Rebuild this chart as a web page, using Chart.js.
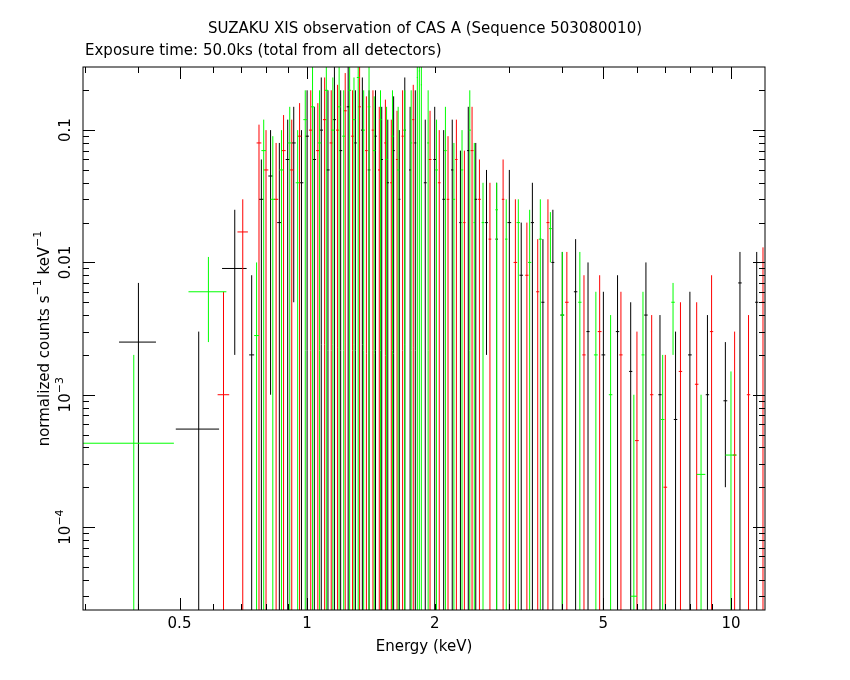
<!DOCTYPE html>
<html>
<head>
<meta charset="utf-8">
<script src="https://cdn.jsdelivr.net/npm/chart.js@4"></script>
<style>
  body { margin: 0; background: #fff; }
  #wrap { width: 850px; height: 680px; }
</style>
</head>
<body>
<div id="wrap"><canvas id="spec"></canvas></div>
<script>
// rows: [energy keV, half bin width, rate, lower error, upper error]
const blackPoints = [
  [0.40,0.04,2.5e-3,1e-6,7e-3],[0.555,0.065,5.5e-4,1e-6,3e-3],[0.675,0.045,9e-3,2e-3,0.025],
  [0.74,0.01,2e-3,1e-6,8e-3],[0.78,0.01,0.03,1e-6,0.06],[0.82,0.01,0.045,1e-3,0.1],
  [0.86,0.01,0.02,1e-6,0.08],[0.9,0.01,0.06,1e-6,0.12],[0.93,0.01,0.08,5e-3,0.15],
  [0.97,0.01,0.04,1e-6,0.1],[1.0,0.01,0.09,1e-6,0.2],[1.04,0.01,0.06,1e-6,0.15],
  [1.08,0.01,0.1,1e-6,0.25],[1.12,0.01,0.05,1e-6,0.2],[1.16,0.01,0.12,1e-6,0.3],
  [1.2,0.01,0.07,1e-6,0.2],[1.25,0.01,0.15,1e-6,0.3],[1.3,0.01,0.08,1e-6,0.2],
  [1.35,0.01,0.1,1e-6,0.25],[1.4,0.01,0.05,1e-6,0.2],[1.45,0.01,0.09,1e-6,0.2],
  [1.5,0.01,0.06,1e-6,0.15],[1.55,0.01,0.04,1e-6,0.12],[1.6,0.01,0.07,1e-6,0.18],
  [1.65,0.01,0.03,1e-6,0.1],[1.7,0.01,0.1,1e-6,0.25],[1.75,0.01,0.05,1e-6,0.15],
  [1.8,0.01,0.08,1e-6,0.2],[1.9,0.015,0.04,1e-6,0.12],[2.0,0.015,0.06,1e-6,0.15],
  [2.1,0.015,0.03,1e-6,0.1],[2.2,0.015,0.05,1e-6,0.12],[2.3,0.015,0.02,1e-6,0.07],
  [2.4,0.015,0.07,1e-6,0.15],[2.5,0.02,0.03,1e-6,0.08],[2.65,0.02,0.02,2e-3,0.05],
  [2.8,0.02,0.015,1e-6,0.04],[3.0,0.03,0.02,1e-6,0.05],[3.2,0.03,0.008,1e-6,0.02],
  [3.4,0.03,0.02,1e-6,0.04],[3.6,0.03,0.005,1e-6,0.015],[3.8,0.03,0.01,1e-6,0.025],
  [4.0,0.04,0.004,1e-6,0.012],[4.3,0.04,0.006,1e-6,0.015],[4.6,0.04,3e-3,1e-6,0.01],
  [5.0,0.05,2e-3,1e-6,6e-3],[5.4,0.05,3e-3,1e-6,8e-3],[5.8,0.05,1.5e-3,1e-6,5e-3],
  [6.3,0.06,0.004,1e-6,0.01],[6.8,0.06,1e-3,1e-6,4e-3],[7.4,0.07,6.5e-4,1e-6,3e-3],
  [8.0,0.08,2e-3,1e-6,6e-3],[8.8,0.08,1e-3,1e-6,4e-3],[9.7,0.1,9e-4,2e-4,2.5e-3],
  [10.5,0.1,0.007,1e-6,0.012],[11.5,0.1,5e-3,1e-6,0.012]
];
const redPoints = [
  [0.635,0.02,1e-3,1e-6,6e-3],[0.705,0.02,0.017,1e-6,0.03],[0.77,0.01,0.08,1e-6,0.11],
  [0.8,0.01,0.05,1e-6,0.1],[0.845,0.01,0.03,1e-6,0.08],[0.88,0.01,0.07,1e-6,0.13],
  [0.92,0.01,0.05,1e-6,0.12],[0.96,0.01,0.09,1e-6,0.16],[1.02,0.01,0.1,1e-6,0.2],
  [1.06,0.01,0.07,1e-6,0.16],[1.1,0.01,0.12,1e-6,0.25],[1.14,0.01,0.08,1e-6,0.2],
  [1.18,0.01,0.1,1e-6,0.22],[1.23,0.01,0.14,1e-6,0.27],[1.28,0.01,0.09,1e-6,0.2],
  [1.33,0.01,0.15,1e-6,0.3],[1.38,0.01,0.07,1e-6,0.18],[1.43,0.01,0.1,1e-6,0.2],
  [1.48,0.01,0.05,1e-6,0.15],[1.53,0.01,0.08,1e-6,0.17],[1.58,0.01,0.04,1e-6,0.12],
  [1.63,0.01,0.06,1e-6,0.14],[1.68,0.01,0.09,1e-6,0.2],[1.78,0.01,0.12,1e-6,0.22],
  [1.95,0.015,0.06,1e-6,0.14],[2.05,0.015,0.04,1e-6,0.1],[2.15,0.015,0.03,1e-6,0.09],
  [2.25,0.015,0.06,1e-6,0.12],[2.35,0.015,0.02,1e-6,0.07],[2.45,0.02,0.07,1e-6,0.15],
  [2.55,0.02,0.03,1e-6,0.06],[2.7,0.02,0.015,1e-6,0.04],[2.9,0.02,0.03,1e-6,0.06],
  [3.1,0.03,0.01,1e-6,0.03],[3.3,0.03,0.008,1e-6,0.02],[3.5,0.03,0.006,1e-6,0.015],
  [3.7,0.03,0.02,1e-6,0.03],[4.1,0.04,0.005,1e-6,0.012],[4.5,0.04,0.002,1e-6,0.008],
  [4.9,0.05,3e-3,1e-6,8e-3],[5.5,0.05,2e-3,1e-6,6e-3],[6.0,0.06,4.5e-4,1e-6,3e-3],
  [6.5,0.06,1e-3,1e-6,4e-3],[7.0,0.07,2e-4,1e-6,2e-3],[7.6,0.07,1.5e-3,1e-6,5e-3],
  [8.3,0.08,1.2e-3,1e-6,5e-3],[9.0,0.08,3e-3,1e-6,8e-3],[10.2,0.1,3.5e-4,1e-6,3e-3],
  [11.0,0.1,1e-3,1e-6,4e-3],[11.9,0.1,5e-3,1e-6,0.013]
];
const greenPoints = [
  [0.39,0.095,4.3e-4,1e-6,2e-3],[0.585,0.06,6e-3,2.5e-3,0.011],[0.76,0.01,0.0028,1e-6,0.01],
  [0.79,0.01,0.07,1e-6,0.12],[0.83,0.01,0.03,1e-6,0.09],[0.87,0.01,0.05,1e-6,0.1],
  [0.91,0.01,0.08,1e-6,0.15],[0.95,0.01,0.04,1e-6,0.1],[0.99,0.01,0.12,1e-6,0.2],
  [1.03,0.01,0.15,1e-6,0.3],[1.07,0.01,0.08,1e-6,0.2],[1.11,0.01,0.2,1e-6,0.3],
  [1.15,0.01,0.1,1e-6,0.25],[1.19,0.01,0.15,1e-6,0.3],[1.22,0.01,0.09,1e-6,0.2],
  [1.26,0.01,0.2,1e-6,0.3],[1.29,0.01,0.12,1e-6,0.25],[1.32,0.01,0.25,1e-6,0.3],
  [1.36,0.01,0.1,1e-6,0.2],[1.4,0.01,0.15,1e-6,0.3],[1.44,0.01,0.07,1e-6,0.18],
  [1.49,0.01,0.12,1e-6,0.2],[1.54,0.01,0.06,1e-6,0.15],[1.59,0.01,0.09,1e-6,0.2],
  [1.64,0.01,0.05,1e-6,0.15],[1.7,0.01,0.1,1e-6,0.2],[1.76,0.01,0.08,1e-6,0.2],
  [1.82,0.005,0.25,1e-6,0.3],[1.84,0.005,0.28,1e-6,0.3],[1.86,0.005,0.22,1e-6,0.3],
  [1.93,0.01,0.08,1e-6,0.2],[2.02,0.015,0.05,1e-6,0.12],[2.12,0.015,0.07,1e-6,0.15],
  [2.22,0.015,0.03,1e-6,0.08],[2.32,0.015,0.05,1e-6,0.1],[2.42,0.015,0.1,1e-6,0.2],
  [2.48,0.01,0.02,1e-6,0.08],[2.6,0.02,0.02,1e-6,0.04],[2.8,0.02,0.025,1e-6,0.04],
  [2.95,0.02,0.015,1e-6,0.03],[3.15,0.03,0.02,1e-6,0.03],[3.35,0.03,0.01,1e-6,0.025],
  [3.55,0.03,0.015,1e-6,0.03],[3.75,0.03,0.018,0.01,0.024],[4.0,0.04,0.004,1e-6,0.012],
  [4.4,0.04,0.005,1e-6,0.012],[4.8,0.05,2e-3,1e-6,6e-3],[5.2,0.05,1e-3,1e-6,4e-3],
  [5.9,0.1,3e-5,1e-6,1e-3],[6.2,0.05,2e-3,1e-6,6e-3],[6.9,0.07,6.5e-4,1e-6,2e-3],
  [7.3,0.07,5e-3,2e-3,7e-3],[8.5,0.2,2.5e-4,1e-6,1e-3],[10.0,0.3,3.5e-4,1e-6,1.5e-3]
];
const xTickValues = [0.5, 1, 2, 5, 10];
const xTickLabels = ['0.5', '1', '2', '5', '10'];
const yTickValues = [0.1, 0.01, 1e-3, 1e-4];
const yTickLabels = ['0.1', '0.01', '10', '10'];
const yTickSups = ['', '', '\u22123', '\u22124'];
const titleLine1 = 'SUZAKU XIS observation of CAS A (Sequence 503080010)';
const titleLine2 = 'Exposure time: 50.0ks (total from all detectors)';

const FONT = '15px "DejaVu Sans", sans-serif';

function toDataset(points, color) {
    return {
        data: points.map((p) => ({x: p[0], y: p[2], dx: p[1], lo: p[3], hi: p[4]})),
        borderColor: color,
        backgroundColor: color,
        pointRadius: 0,
        showLine: false
    };
}

// error bars + frame, ticks and labels drawn from the chart scales
const specPlugin = {
    id: 'spec',
    afterDatasetsDraw(chart) {
        const ctx = chart.ctx;
        const xs = chart.scales.x, ys = chart.scales.y;
        const a = chart.chartArea;
        ctx.save();
        ctx.beginPath();
        ctx.rect(a.left, a.top, a.right - a.left, a.bottom - a.top);
        ctx.clip();
        chart.data.datasets.forEach((ds) => {
            ctx.strokeStyle = ds.borderColor;
            ctx.lineWidth = 1;
            ds.data.forEach((d) => {
                const px = xs.getPixelForValue(d.x), py = ys.getPixelForValue(d.y);
                ctx.beginPath();
                ctx.moveTo(xs.getPixelForValue(d.x - d.dx), py);
                ctx.lineTo(xs.getPixelForValue(d.x + d.dx), py);
                ctx.moveTo(px, ys.getPixelForValue(d.lo));
                ctx.lineTo(px, ys.getPixelForValue(d.hi));
                ctx.stroke();
            });
        });
        ctx.restore();

        ctx.save();
        ctx.strokeStyle = '#000';
        ctx.lineWidth = 1;
        ctx.strokeRect(a.left, a.top, a.right - a.left, a.bottom - a.top);
        ctx.beginPath();
        // x ticks
        for (let dec = 0.1; dec <= 10; dec *= 10) {
            for (let m = 1; m <= 9; m++) {
                const v = m * dec;
                if (v < xs.min || v > xs.max) continue;
                const px = Math.round(xs.getPixelForValue(v)) + 0.5;
                const len = m === 1 || m === 5 ? 12 : 6;
                ctx.moveTo(px, a.bottom); ctx.lineTo(px, a.bottom - len);
                ctx.moveTo(px, a.top); ctx.lineTo(px, a.top + len);
            }
        }
        // y ticks
        for (let dec = 1e-5; dec <= 0.1; dec *= 10) {
            for (let m = 1; m <= 9; m++) {
                const v = m * dec;
                if (v < ys.min || v > ys.max) continue;
                const py = Math.round(ys.getPixelForValue(v)) + 0.5;
                const len = m === 1 ? 12 : 6;
                ctx.moveTo(a.left, py); ctx.lineTo(a.left + len, py);
                ctx.moveTo(a.right, py); ctx.lineTo(a.right - len, py);
            }
        }
        ctx.stroke();

        ctx.fillStyle = '#000';
        ctx.font = FONT;
        ctx.textAlign = 'center';
        ctx.textBaseline = 'top';
        xTickValues.forEach((v, i) => {
            ctx.fillText(xTickLabels[i], xs.getPixelForValue(v), a.bottom + 7);
        });
        ctx.fillText('Energy (keV)', (a.left + a.right) / 2, a.bottom + 30);
        ctx.fillText(titleLine1, 425, 22);
        ctx.textAlign = 'left';
        ctx.fillText(titleLine2, 85, 44);

        // y labels, rotated
        yTickValues.forEach((v, i) => {
            const py = ys.getPixelForValue(v);
            ctx.save();
            ctx.translate(a.left - 9, py);
            ctx.rotate(-Math.PI / 2);
            ctx.textBaseline = 'bottom';
            ctx.font = FONT;
            const w1 = ctx.measureText(yTickLabels[i]).width;
            ctx.font = '11px "DejaVu Sans", sans-serif';
            const w2 = yTickSups[i] ? ctx.measureText(yTickSups[i]).width : 0;
            let sx = -(w1 + w2) / 2;
            ctx.font = FONT;
            ctx.fillText(yTickLabels[i], sx, 0);
            if (yTickSups[i]) {
                ctx.font = '11px "DejaVu Sans", sans-serif';
                ctx.fillText(yTickSups[i], sx + w1, -8);
            }
            ctx.restore();
        });
        ctx.save();
        ctx.translate(45, (a.top + a.bottom) / 2);
        ctx.rotate(-Math.PI / 2);
        ctx.textBaseline = 'middle';
        const parts = [['normalized counts s', FONT, 0], ['\u22121', '11px "DejaVu Sans", sans-serif', -7],
                       [' keV', FONT, 0], ['\u22121', '11px "DejaVu Sans", sans-serif', -7]];
        let total = 0;
        parts.forEach((p) => { ctx.font = p[1]; total += ctx.measureText(p[0]).width; });
        let cx = -total / 2;
        parts.forEach((p) => {
            ctx.font = p[1];
            ctx.fillText(p[0], cx, p[2]);
            cx += ctx.measureText(p[0]).width;
        });
        ctx.restore();
        ctx.restore();
    }
};

new Chart('spec', {
    type: 'scatter',
    data: {
        datasets: [
            toDataset(blackPoints, '#000000'),
            toDataset(redPoints, '#ff0000'),
            toDataset(greenPoints, '#00ff00')
        ]
    },
    options: {
        responsive: true,
        maintainAspectRatio: false,
        animation: false,
        events: [],
        layout: { padding: { left: 83, right: 85, top: 67, bottom: 70 } },
        plugins: { legend: { display: false }, tooltip: { enabled: false } },
        scales: {
            x: { type: 'logarithmic', min: 0.296, max: 12.03, display: false },
            y: { type: 'logarithmic', min: 2.36e-5, max: 0.30, display: false }
        }
    },
    plugins: [specPlugin]
});
</script>
</body>
</html>
